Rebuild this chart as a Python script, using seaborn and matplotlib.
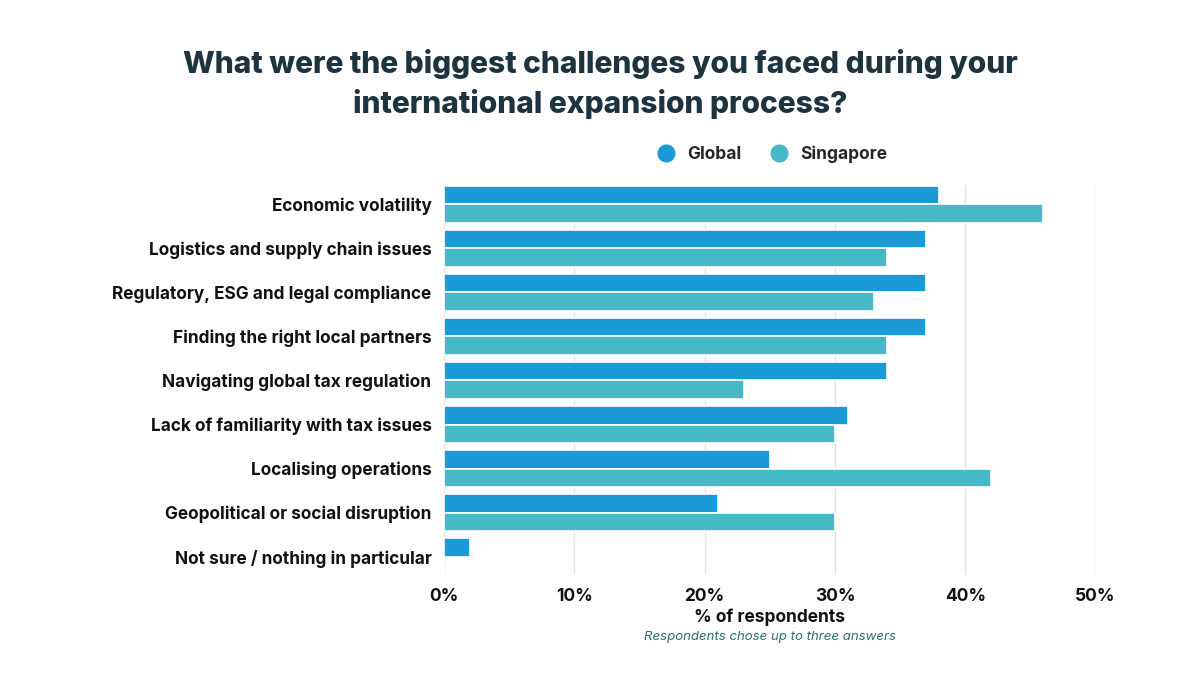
import matplotlib
matplotlib.use("Agg")
import matplotlib.pyplot as plt
import seaborn as sns
import pandas as pd
from matplotlib.ticker import FuncFormatter
from matplotlib.lines import Line2D

challenges = [
    "Economic volatility",
    "Logistics and supply chain issues",
    "Regulatory, ESG and legal compliance",
    "Finding the right local partners",
    "Navigating global tax regulation",
    "Lack of familiarity with tax issues",
    "Localising operations",
    "Geopolitical or social disruption",
    "Not sure / nothing in particular",
]
global_pct = [38, 37, 37, 37, 34, 31, 25, 21, 2]
singapore_pct = [46, 34, 33, 34, 23, 30, 42, 30, 0]

colors = {"Global": "#1a9bd7", "Singapore": "#45bac6"}

df = pd.DataFrame({
    "Challenge": challenges * 2,
    "Region": ["Global"] * len(challenges) + ["Singapore"] * len(challenges),
    "Pct": global_pct + singapore_pct,
})

sns.set_style("white")
plt.rcParams["font.family"] = ["Inter", "DejaVu Sans"]

fig = plt.figure(figsize=(12, 6.75), dpi=100)
ax = fig.add_axes([0.37, 0.148, 0.543, 0.578])

sns.barplot(data=df, y="Challenge", x="Pct", hue="Region", palette=colors,
            order=challenges, width=0.84, edgecolor="white", linewidth=1.2,
            saturation=1, ax=ax, legend=False)

ax.set_xlim(0, 50)
ax.set_ylim(len(challenges) - 0.58, -0.44)
ax.set_xticks([0, 10, 20, 30, 40, 50])
ax.xaxis.set_major_formatter(FuncFormatter(lambda v, p: f"{v:.0f}%"))
ax.grid(axis="x", color="#e3e3e3", linewidth=1)
ax.set_axisbelow(True)
for s in ax.spines.values():
    s.set_visible(False)
ax.tick_params(axis="both", length=0)
ax.tick_params(axis="x", pad=9, labelsize=12.5)
ax.tick_params(axis="y", pad=9, labelsize=12.4)
for lab in ax.get_xticklabels() + ax.get_yticklabels():
    lab.set_fontweight("bold")
    lab.set_color("#111111")
ax.set_ylabel("")
ax.set_xlabel("% of respondents", fontsize=12.5, fontweight="bold",
              color="#111111", labelpad=3)

fig.text(0.6415, 0.052, "Respondents chose up to three answers", ha="center",
         fontsize=9.5, style="italic", color="#2e6b78")

fig.text(0.5, 0.905, "What were the biggest challenges you faced during your",
         ha="center", va="center", fontsize=21.6, fontweight="heavy", color="#1e3340")
fig.text(0.5, 0.846, "international expansion process?",
         ha="center", va="center", fontsize=21.6, fontweight="heavy", color="#1e3340")

handles = [Line2D([0], [0], marker="o", linestyle="", markersize=12,
                  markerfacecolor=colors[k], markeredgecolor=colors[k], label=k)
           for k in colors]
fig.legend(handles=handles, loc="center", bbox_to_anchor=(0.64, 0.772), ncol=2,
           frameon=False, handletextpad=0.2, columnspacing=1.2,
           prop={"weight": "bold", "size": 12.5})

fig.savefig("out.png", dpi=100, facecolor="white")
